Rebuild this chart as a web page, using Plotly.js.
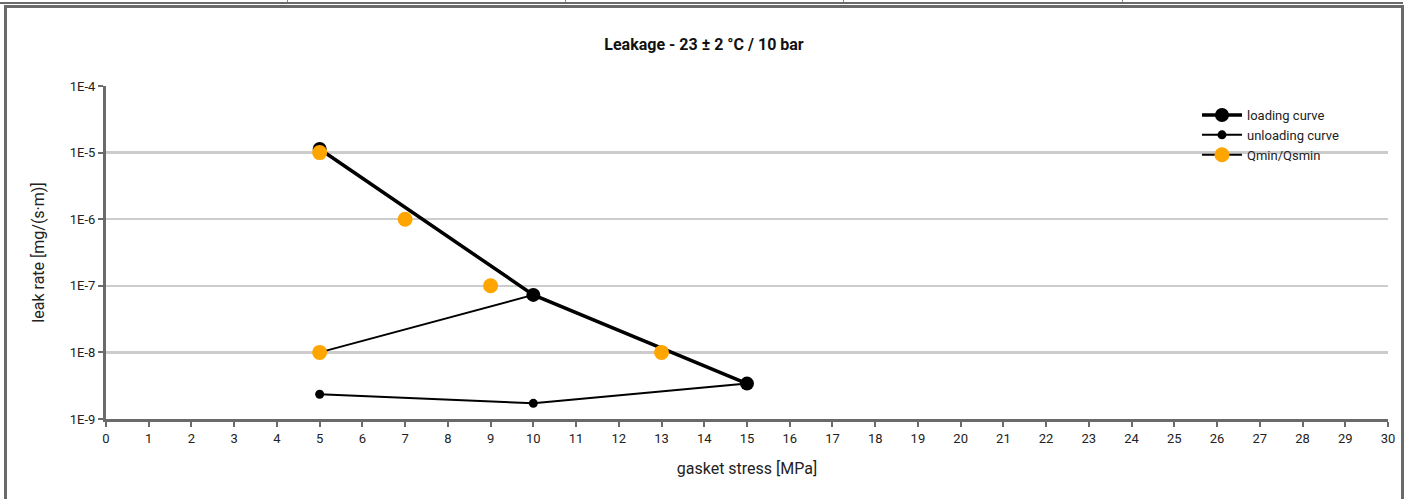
<!DOCTYPE html>
<html>
<head>
<meta charset="utf-8">
<script src="https://cdn.plot.ly/plotly-3.0.1.min.js"></script>
<style>
  html, body { margin: 0; padding: 0; background: #fff; width: 1409px; height: 499px; overflow: hidden; }
  #topstrip { position: absolute; left: 0; top: 0; width: 1403px; height: 2px; border-bottom: 2px solid #6a6a6a; }
  .cell { position: absolute; top: 0; height: 2px; width: 1px; background: #888; }
  #frame { position: absolute; left: 4px; top: 5px; width: 1394px; height: 500px;
           border-left: 3px solid #6a6a6a; border-top: 3px solid #6a6a6a; border-right: 3px solid #6a6a6a; }
  #chart { position: absolute; left: 0; top: 0; width: 1394px; height: 491px; }
</style>
</head>
<body>
<div id="topstrip">
  <div class="cell" style="left:287px"></div>
  <div class="cell" style="left:565px"></div>
  <div class="cell" style="left:843px"></div>
  <div class="cell" style="left:1122px"></div>
</div>
<div id="frame"><div id="chart"></div></div>
<script>
// ---- data ----
const loadingStress = [5, 10, 15];
const loadingLeak   = [1.13e-5, 7.3e-8, 3.4e-9];

// unloading curves (null separates the two unloading runs)
const unloadingStress = [10, 5, null, 15, 10, 5];
const unloadingLeak   = [7.3e-8, 1.0e-8, null, 3.4e-9, 1.72e-9, 2.35e-9];

// Qmin/Qsmin points (nulls keep them unconnected)
const qminStress = [5, null, 7, null, 9, null, 5, null, 13];
const qminLeak   = [1e-5, null, 1e-6, null, 1e-7, null, 1e-8, null, 1e-8];

const xTicks = Array.from({length: 31}, (_, i) => i);
const yTickVals = [1e-9, 1e-8, 1e-7, 1e-6, 1e-5, 1e-4];
const yTickText = ["1E-9", "1E-8", "1E-7", "1E-6", "1E-5", "1E-4"];

const FONT = "Roboto, 'Noto Sans', sans-serif";

const traces = [
  {
    name: "loading curve", x: loadingStress, y: loadingLeak,
    mode: "lines+markers", type: "scatter",
    line: {color: "#000", width: 3.5},
    marker: {color: "#000", size: 14}
  },
  {
    name: "unloading curve", x: unloadingStress, y: unloadingLeak,
    mode: "lines+markers", type: "scatter", connectgaps: false,
    line: {color: "#000", width: 2},
    marker: {color: "#000", size: 9}
  },
  {
    name: "Qmin/Qsmin", x: qminStress, y: qminLeak,
    mode: "lines+markers", type: "scatter", connectgaps: false,
    line: {color: "#000", width: 2},
    marker: {color: "#FFA500", size: 15}
  }
];

const layout = {
  width: 1394, height: 491,
  margin: {l: 99, r: 13, t: 78, b: 80},
  paper_bgcolor: "#fff", plot_bgcolor: "#fff",
  font: {family: FONT, size: 13, color: "#222"},
  title: {text: "<b>Leakage - 23 ± 2 °C / 10 bar</b>", font: {family: FONT, size: 16, color: "#111"},
          x: 0.5, xref: "container", xanchor: "center", y: 1 - 36/491, yref: "container", yanchor: "middle"},
  showlegend: true,
  legend: {x: 0.851, y: 0.958, xanchor: "left", yanchor: "top", bgcolor: "rgba(0,0,0,0)",
           font: {family: FONT, size: 13, color: "#222"}, tracegroupgap: 0, itemwidth: 40},
  xaxis: {
    range: [0, 30], tickmode: "array", tickvals: xTicks, ticktext: xTicks.map(String),
    showgrid: false, zeroline: false,
    showline: true, linecolor: "#6a6a6a", linewidth: 3,
    ticks: "outside", ticklen: 5, tickwidth: 2, tickcolor: "#6a6a6a",
    tickfont: {family: FONT, size: 13, color: "#222"},
    title: {text: "gasket stress [MPa]", font: {family: FONT, size: 16, color: "#222"}, standoff: 19}
  },
  yaxis: {
    type: "log", range: [-9, -4], tickmode: "array", tickvals: yTickVals, ticktext: yTickText,
    showgrid: true, gridcolor: "#cccccc", gridwidth: 2.5, zeroline: false,
    showline: true, linecolor: "#6a6a6a", linewidth: 3,
    ticks: "outside", ticklen: 5, tickwidth: 2, tickcolor: "#6a6a6a",
    tickfont: {family: FONT, size: 13, color: "#222"},
    title: {text: "leak rate [mg/(s·m)]", font: {family: FONT, size: 16, color: "#222"}, standoff: 22}
  }
};

Plotly.newPlot("chart", traces, layout, {displayModeBar: false, staticPlot: true});
</script>
</body>
</html>
